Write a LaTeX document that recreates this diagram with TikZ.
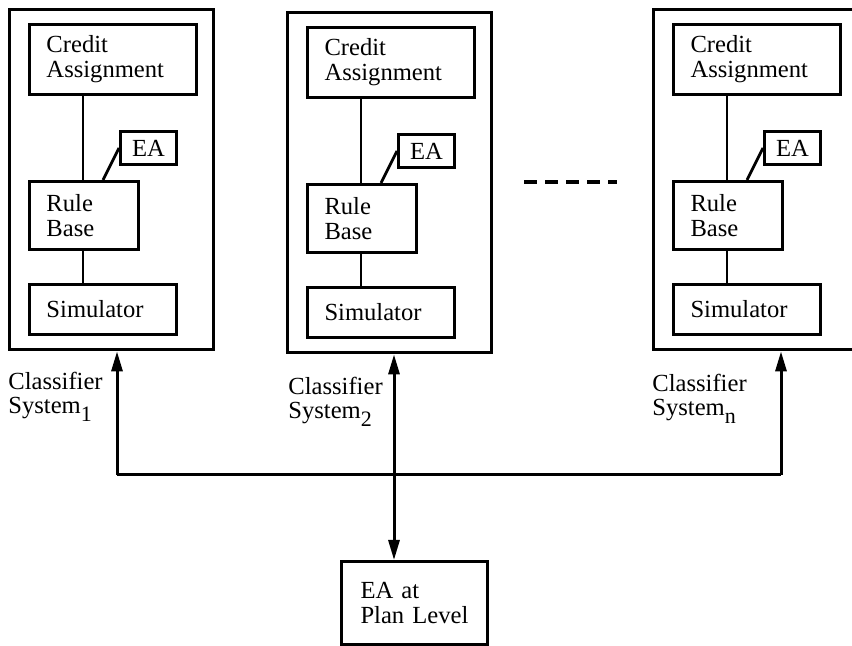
\documentclass[tikz,border=0pt]{standalone}
\usepackage{fontspec}
\setmainfont{Liberation Serif}
\usetikzlibrary{arrows.meta,calc}

% one classifier system: #1 = name prefix, #2 = x, #3 = y of the top-left corner
\newcommand\clsys[3]{%
  \begin{scope}[shift={(#2,#3)}]
    \node[outerbox] (#1out) at (0,0) {};
    \node[ibox, text width=66.5pt, minimum height=35pt] (#1cred) at (20,15) {Credit\\Assignment};
    \node[ibox, align=center, inner xsep=2pt, text width=24pt, minimum height=16.5pt] (#1ea) at (111,122) {EA};
    \node[ibox, text width=37.5pt, minimum height=34pt] (#1rule) at (20,172) {Rule\\Base};
    \node[ibox, text width=56.5pt, minimum height=25pt] (#1sim) at (20,275) {Simulator};
    \coordinate (#1v) at (75,0);
    \draw[link] (#1v |- #1cred.south) -- (#1v |- #1rule.north);
    \draw[link] (#1v |- #1rule.south) -- (#1v |- #1sim.north);
    \draw[link] ($(#1rule.north west)+(75,0)$) -- (#1ea.west);
  \end{scope}}

\begin{document}
\begin{tikzpicture}[x=0.5pt,y=-0.5pt,
  every node/.style={font=\fontsize{12.3}{12.3}\selectfont},
  outerbox/.style={draw, line width=1.7pt, anchor=north west, inner sep=0pt,
    minimum width=102pt, minimum height=170pt},
  ibox/.style={draw, line width=1.5pt, anchor=north west, inner xsep=8.5pt,
    inner ysep=0pt, align=left, font=\fontsize{12.3}{12.5}\selectfont},
  link/.style={line width=1.4pt},
  flow/.style={line width=1.5pt, -{Triangle[length=10pt,width=5.5pt]}},
  caption/.style={anchor=north west, inner sep=0pt, align=left,
    font=\fontsize{12.3}{12}\selectfont}]
  \useasboundingbox (0,0) rectangle (852,646);
  \clip (0,0) rectangle (852,646);

  \clsys{a}{8}{8}
  \clsys{b}{286}{11}
  \clsys{c}{652}{8}

  % further systems
  \draw[line width=1.6pt, dash pattern=on 6.5pt off 4pt] (524,182) -- (617,182);

  % captions
  \node[caption] (la) at (8,372) {Classifier\\System\raisebox{-0.7ex}{\fontsize{11}{11}\selectfont 1}};
  \node[caption] (lb) at (288,377) {Classifier\\System\raisebox{-0.7ex}{\fontsize{11}{11}\selectfont 2}};
  \node[caption] (lc) at (652,374) {Classifier\\System\raisebox{-0.7ex}{\fontsize{11}{11}\selectfont n}};

  % plan level EA
  \node[ibox, text width=54pt, inner xsep=9.5pt, minimum height=41.5pt] (plan) at (340,560) {EA at\\Plan Level};

  % bus
  \coordinate (p1) at (117,475);
  \coordinate (p2) at (394,475);
  \coordinate (p3) at (781,475);
  \draw[flow, -] (p1) -- (p3);
  \draw[flow] (p1) -- (p1 |- aout.south);
  \draw[flow] (p3) -- (p3 |- cout.south);
  \draw[flow, {Triangle[length=10pt,width=5.5pt]}-{Triangle[length=10pt,width=5.5pt]}] (p2 |- bout.south) -- (p2 |- plan.north);
\end{tikzpicture}
\end{document}
